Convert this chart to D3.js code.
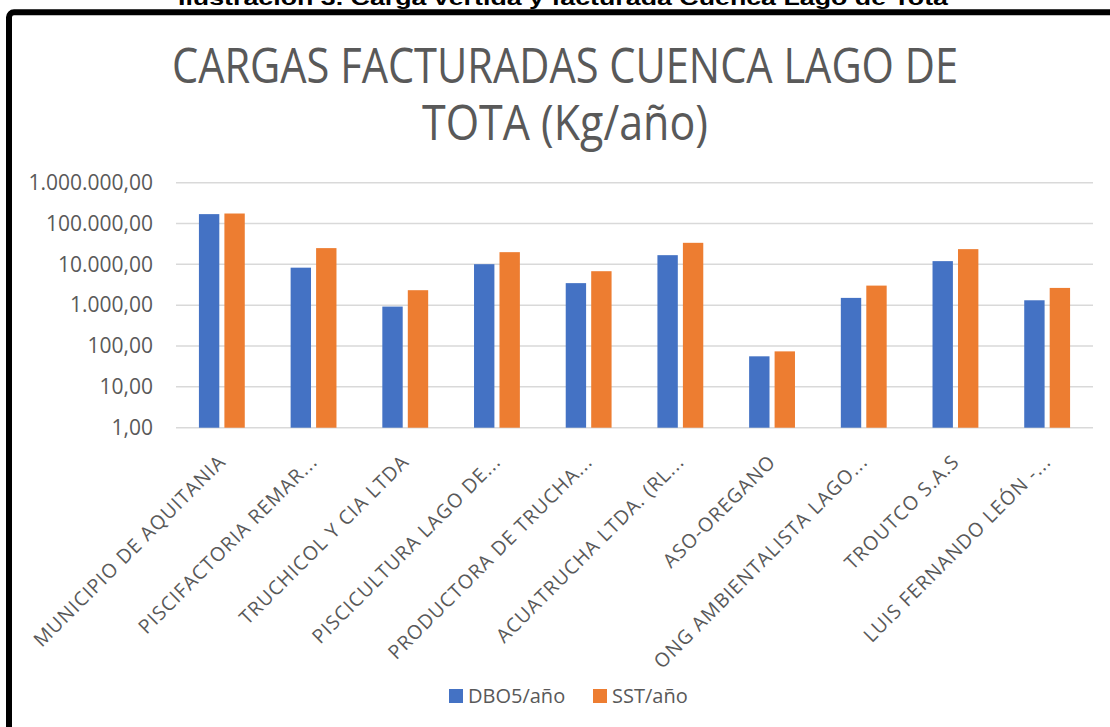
<!DOCTYPE html>
<html>
<head>
<meta charset="utf-8">
<script src="https://cdn.jsdelivr.net/npm/d3@7"></script>
<style>
  html, body { margin: 0; padding: 0; background: #fff; }
  svg { display: block; }
</style>
</head>
<body>
<svg id="chart" width="1110" height="727"></svg>
<script>
const categories = [
  "MUNICIPIO DE AQUITANIA",
  "PISCIFACTORIA REMAR...",
  "TRUCHICOL Y CIA LTDA",
  "PISCICULTURA LAGO DE...",
  "PRODUCTORA DE TRUCHA...",
  "ACUATRUCHA LTDA. (RL...",
  "ASO-OREGANO",
  "ONG AMBIENTALISTA LAGO...",
  "TROUTCO S.A.S",
  "LUIS FERNANDO LEÓN -..."
];
const seriesNames = ["DBO5/año", "SST/año"];
const dbo5 = [170000, 8300, 925, 10100, 3470, 16800, 56, 1510, 12000, 1320];
const sst = [176000, 25000, 2330, 19900, 6800, 33700, 74, 3020, 23600, 2650];
const yTicks = [1, 10, 100, 1000, 10000, 100000, 1000000];
const colors = ["#4472C4", "#ED7D31"];

const svg = d3.select("#chart");
const textColor = "#595959";

// caption above the frame (mostly cut off)
svg.append("text")
  .attr("x", 563)
  .attr("y", 5)
  .attr("text-anchor", "middle")
  .style("font-family", "Liberation Sans, Arial, sans-serif")
  .style("font-weight", "bold")
  .style("font-size", "21px")
  .attr("textLength", 770)
  .attr("lengthAdjust", "spacingAndGlyphs")
  .text("Ilustración 3. Carga vertida y facturada Cuenca Lago de Tota");

// black frame
svg.append("rect")
  .attr("x", 9).attr("y", 12.3)
  .attr("width", 1300).attr("height", 900)
  .attr("rx", 5)
  .attr("fill", "none")
  .attr("stroke", "#000")
  .attr("stroke-width", 6);

// title
const titleLines = ["CARGAS FACTURADAS CUENCA LAGO DE", "TOTA (Kg/año)"];
const titleWidths = [786, 286];
svg.append("g").selectAll("text")
  .data(titleLines)
  .enter().append("text")
    .attr("x", 565)
    .attr("y", (d, i) => 83 + i * 57)
    .attr("text-anchor", "middle")
    .attr("textLength", (d, i) => titleWidths[i])
    .attr("lengthAdjust", "spacingAndGlyphs")
    .style("font-family", "Open Sans, sans-serif")
    .style("font-size", "49px")
    .style("fill", textColor)
    .text(d => d);

const x0 = d3.scaleBand()
  .domain(categories)
  .range([176, 1093])
  .paddingInner(0.5)
  .paddingOuter(0.25);

const x1 = d3.scaleBand()
  .domain(seriesNames)
  .range([0, x0.bandwidth()])
  .paddingInner(0.2);

const y = d3.scaleLog()
  .domain([1, 1000000])
  .range([427.7, 182.7]);

const esFormat = d3.formatLocale({
  decimal: ",", thousands: ".", grouping: [3], currency: ["$", ""]
}).format(",.2f");

// gridlines
svg.append("g").selectAll("line")
  .data(yTicks)
  .enter().append("line")
    .attr("x1", 176).attr("x2", 1093)
    .attr("y1", d => y(d)).attr("y2", d => y(d))
    .attr("stroke", "#d9d9d9")
    .attr("stroke-width", 1.5);

// y axis labels
const yAxis = d3.axisLeft(y).tickValues(yTicks).tickFormat(esFormat).tickSize(0).tickPadding(0);
const yG = svg.append("g").attr("transform", "translate(153,0)").call(yAxis);
yG.select(".domain").remove();
yG.selectAll("text")
  .style("font-family", "Open Sans, sans-serif")
  .style("font-size", "21px")
  .style("fill", textColor);

// bars
const rows = categories.map((c, i) => ({ cat: c, values: [dbo5[i], sst[i]] }));
svg.append("g").selectAll("g")
  .data(rows)
  .enter().append("g")
    .attr("transform", d => "translate(" + x0(d.cat) + ",0)")
  .selectAll("rect")
    .data(d => d.values.map((v, j) => ({ key: seriesNames[j], v: v, j: j })))
  .enter().append("rect")
    .attr("x", d => x1(d.key))
    .attr("width", x1.bandwidth())
    .attr("y", d => y(d.v))
    .attr("height", d => y(1) - y(d.v))
    .attr("fill", d => colors[d.j]);

// x axis labels
svg.append("g").selectAll("text")
  .data(categories)
  .enter().append("text")
    .attr("transform", d => "translate(" + (x0(d) + x0.bandwidth() / 2 + 5) + ",463)rotate(-45)")
    .attr("text-anchor", "end")
    .style("font-family", "Open Sans, sans-serif")
    .style("font-size", "19.5px")
    .style("letter-spacing", "1px")
    .style("fill", textColor)
    .text(d => d);

// legend
const legend = svg.append("g").selectAll("g")
  .data(seriesNames)
  .enter().append("g")
    .attr("transform", (d, i) => "translate(" + [449, 593][i] + ",689)");
legend.append("rect")
  .attr("width", 14).attr("height", 14)
  .attr("fill", (d, i) => colors[i]);
legend.append("text")
  .attr("x", 19)
  .attr("y", 7)
  .attr("dy", "0.35em")
  .style("font-family", "Open Sans, sans-serif")
  .style("font-size", "20px")
  .style("fill", textColor)
  .text(d => d);
</script>
</body>
</html>
